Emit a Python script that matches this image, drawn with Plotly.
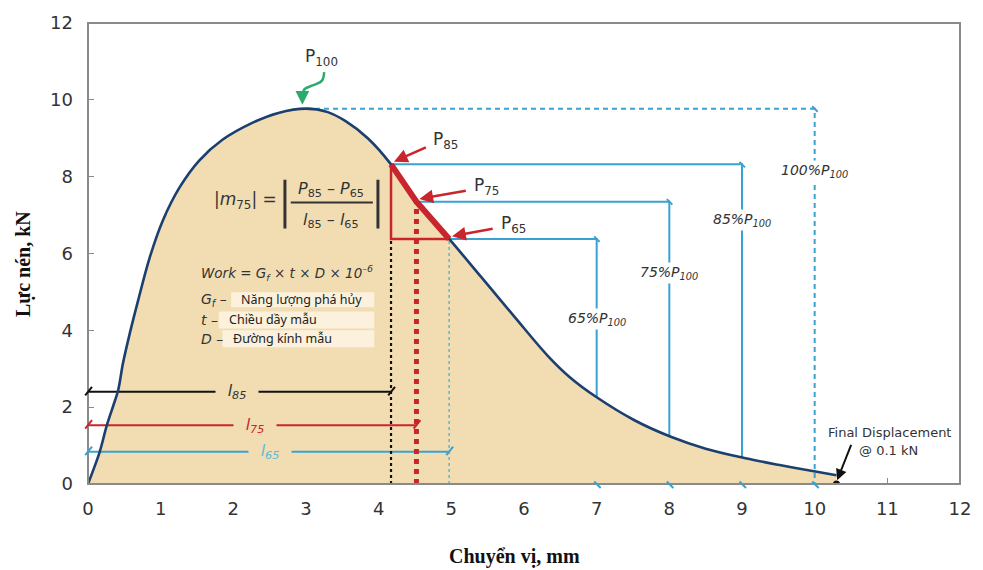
import numpy as np
import plotly.graph_objects as go

# ---------------- data ----------------
curve_x = [0, 0.08, 0.16, 0.26, 0.35, 0.415, 0.48, 0.575, 0.69, 0.85, 1.03, 1.26, 1.53,
           1.85, 2.26, 2.62, 3.0, 3.3, 3.54, 3.85, 4.17, 4.52, 4.97, 5.41, 5.87, 6.33,
           6.63, 6.99, 7.52, 8.02, 8.5, 9.05, 9.5, 10.03, 10.3]
curve_y = [0, 0.4, 0.83, 1.53, 2.05, 2.44, 3.13, 3.92, 4.78, 5.9, 6.86, 7.72, 8.42,
           8.96, 9.4, 9.66, 9.77, 9.68, 9.45, 9.0, 8.32, 7.35, 6.38, 5.39, 4.35, 3.33,
           2.78, 2.27, 1.66, 1.23, 0.92, 0.67, 0.5, 0.32, 0.23]

peak_x, p100 = 3.0, 9.77
levels = [8.32, 7.35, 6.38]            # P85, P75, P65
l_vals = [4.17, 4.52, 4.97]            # l85, l75, l65
right_x = [9, 8, 7]                    # verticals for 85/75/65 %P100
p100_right = 10
final_disp = 10.3
dim_y = [2.4, 1.53, 0.84]              # heights of l85, l75, l65 dimension lines
x_ticks = list(range(0, 13))
y_ticks = list(range(0, 13, 2))

FILL = "#F2DDB3"
BOX = "#FBF1DC"
CURVE = "#1B3F6E"
BLUE = "#3AA2D2"
LBLUE = "#5DBBDD"
RED = "#C8262C"
GREEN = "#2BAA6E"
TXT = "#333333"
FF = "DejaVu Sans"

fig = go.Figure()

# area under the curve
fig.add_trace(go.Scatter(x=curve_x, y=curve_y, mode="lines", fill="tozeroy",
                         fillcolor=FILL, line=dict(color=FILL, width=0, shape="spline", smoothing=1.0),
                         hoverinfo="skip"))

# dimension lines l85/l75/l65
dim_colors = ["#111111", RED, BLUE]
dim_txt_colors = ["#333333", RED, "#5DBBDD"]
dim_names = ["l<sub>85</sub>", "l<sub>75</sub>", "l<sub>65</sub>"]
dim_lab_x = [2.05, 2.3, 2.5]
for lv, dy, c, tc, nm, lx in zip(l_vals, dim_y, dim_colors, dim_txt_colors, dim_names, dim_lab_x):
    fig.add_trace(go.Scatter(x=[0, lv], y=[dy, dy], mode="lines",
                             line=dict(color=c, width=2), hoverinfo="skip"))
    for xe in (0, lv):
        fig.add_annotation(x=xe, y=dy, text="", showarrow=True, arrowhead=0,
                           arrowwidth=2, arrowcolor=c, ax=-8, ay=10, xshift=4, yshift=5)
    fig.add_annotation(x=lx, y=dy, text="<i>" + nm + "</i>", showarrow=False,
                       bgcolor=FILL, font=dict(family=FF, size=16, color=tc),
                       borderpad=1, width=40)

# vertical guide lines at l85, l75, l65
fig.add_trace(go.Scatter(x=[l_vals[0], l_vals[0]], y=[0, levels[2]], mode="lines",
                         line=dict(color="#111111", width=2.2, dash="dot"), hoverinfo="skip"))
fig.add_trace(go.Scatter(x=[l_vals[1], l_vals[1]], y=[0, levels[1]], mode="lines",
                         line=dict(color=RED, width=5, dash="dot"), hoverinfo="skip"))
fig.add_trace(go.Scatter(x=[l_vals[2], l_vals[2]], y=[0, levels[2]], mode="lines",
                         line=dict(color=LBLUE, width=1.6, dash="dot"), hoverinfo="skip"))

# blue level lines for 85/75/65 %
for lv, lev, xr in zip(l_vals, levels, right_x):
    yb = float(np.interp(xr, curve_x, curve_y))
    fig.add_trace(go.Scatter(x=[lv, xr, xr], y=[lev, lev, yb], mode="lines",
                             line=dict(color=BLUE, width=2), hoverinfo="skip"))
    fig.add_annotation(x=xr, y=lev, text="", showarrow=True, arrowhead=0, arrowwidth=2,
                       arrowcolor=BLUE, ax=-7, ay=-7, xshift=3, yshift=-3)
    fig.add_annotation(x=xr, y=0, text="", showarrow=True, arrowhead=0, arrowwidth=2,
                       arrowcolor=BLUE, ax=-8, ay=-8, xshift=4, yshift=-4)

# 100% line (dashed)
fig.add_trace(go.Scatter(x=[peak_x, p100_right, p100_right], y=[p100, p100, 0], mode="lines",
                         line=dict(color=BLUE, width=2, dash="5px,4px"), hoverinfo="skip"))
fig.add_annotation(x=p100_right, y=p100, text="", showarrow=True, arrowhead=0, arrowwidth=2,
                   arrowcolor=BLUE, ax=-7, ay=-7, xshift=3, yshift=-3)
fig.add_annotation(x=p100_right, y=0, text="", showarrow=True, arrowhead=0, arrowwidth=2,
                   arrowcolor=BLUE, ax=-8, ay=-8, xshift=4, yshift=-4)

# red triangle
fig.add_trace(go.Scatter(x=[l_vals[0], l_vals[0], l_vals[2]], y=[levels[0], levels[2], levels[2]],
                         mode="lines", line=dict(color=RED, width=2.5), hoverinfo="skip"))

# the curve
fig.add_trace(go.Scatter(x=curve_x, y=curve_y, mode="lines",
                         line=dict(color=CURVE, width=2.6, shape="spline", smoothing=1.0),
                         hoverinfo="skip"))
# thick red slope segment
fig.add_trace(go.Scatter(x=l_vals, y=levels, mode="lines", line=dict(color=RED, width=6),
                         hoverinfo="skip"))
# final displacement dot
fig.add_trace(go.Scatter(x=[final_disp], y=[0], mode="markers",
                         marker=dict(color="#111111", size=7), hoverinfo="skip"))

# percentage labels
pct_labels = ["85%P<sub>100</sub>", "75%P<sub>100</sub>", "65%P<sub>100</sub>"]
pct_y = [6.86, 5.5, 4.3]
for xr, lab, py in zip(right_x, pct_labels, pct_y):
    fig.add_annotation(x=xr, y=py, text="<i>" + lab + "</i>", showarrow=False, bgcolor="white",
                       font=dict(family=FF, size=14, color=TXT), borderpad=1)
fig.add_annotation(x=p100_right, y=8.16, text="<i>100%P<sub>100</sub></i>", showarrow=False,
                   bgcolor="white", font=dict(family=FF, size=14, color=TXT), borderpad=1)

# P labels with red arrows
plabs = ["P<sub>85</sub>", "P<sub>75</sub>", "P<sub>65</sub>"]
plab_xy = [(4.92, 8.94), (5.49, 7.74), (5.85, 6.75)]
tails = [(4.67, 8.78), (5.22, 7.64), (5.59, 6.65)]
for lv, lev, lab, (tx, ty), (ax_, ay_) in zip(l_vals, levels, plabs, plab_xy, tails):
    fig.add_annotation(x=tx, y=ty, text=lab, showarrow=False,
                       font=dict(family=FF, size=17, color=TXT))
    fig.add_annotation(x=lv + 0.04, y=lev + 0.07, ax=ax_, ay=ay_, axref="x", ayref="y",
                       text="", showarrow=True, arrowhead=2, arrowsize=1.1, arrowwidth=2.5,
                       arrowcolor=RED)

# P100 label with green curved arrow
fig.add_annotation(x=3.21, y=11.1, text="P<sub>100</sub>", showarrow=False,
                   font=dict(family=FF, size=17, color=TXT))
fig.add_trace(go.Scatter(x=[3.25, 3.22, 3.1, 2.98, 2.95], y=[10.72, 10.5, 10.38, 10.28, 10.1],
                         mode="lines", line=dict(color=GREEN, width=2.5, shape="spline"),
                         hoverinfo="skip"))
fig.add_annotation(x=2.95, y=9.87, ax=2.95, ay=10.2, axref="x", ayref="y", text="",
                   showarrow=True, arrowhead=2, arrowsize=1.1, arrowwidth=2.5, arrowcolor=GREEN)

# Formula block
fig.add_annotation(x=2.17, y=7.38, text="|<i>m</i><sub>75</sub>| =", showarrow=False,
                   font=dict(family=FF, size=17, color=TXT))
fig.add_annotation(x=3.35, y=7.66, text="<i>P</i><sub>85</sub> – <i>P</i><sub>65</sub>",
                   showarrow=False, font=dict(family=FF, size=16, color=TXT))
fig.add_annotation(x=3.35, y=6.86, text="<i>l</i><sub>85</sub> – <i>l</i><sub>65</sub>",
                   showarrow=False, font=dict(family=FF, size=16, color=TXT))
fig.add_shape(type="line", x0=2.79, x1=3.92, y0=7.33, y1=7.33, line=dict(color=TXT, width=2))
for bx in (2.71, 3.99):
    fig.add_shape(type="line", x0=bx, x1=bx, y0=6.65, y1=7.92, line=dict(color=TXT, width=3))

fig.add_annotation(x=1.53, y=5.5, xanchor="left",
                   text="<i>Work = G<sub>f</sub> × t × D × 10<sup>–6</sup></i>", showarrow=False,
                   font=dict(family=FF, size=13.5, color=TXT))
rows = [("<i>G<sub>f</sub> –</i>", 4.79, 1.97, 4.60, 4.99, 2.08, "Năng lượng phá hủy"),
        ("<i>t –</i>", 4.27, 1.80, 4.05, 4.49, 1.91, "Chiều dầy mẫu"),
        ("<i>D –</i>", 3.78, 1.85, 3.56, 4.00, 1.97, "Đường kính mẫu")]
for sym, yy, bx0, by0, by1, tx, txt in rows:
    fig.add_shape(type="rect", x0=bx0, x1=3.94, y0=by0, y1=by1, fillcolor=BOX,
                  line=dict(width=0), layer="above")
    fig.add_annotation(x=1.53, y=yy, xanchor="left", text=sym, showarrow=False,
                       font=dict(family=FF, size=14, color=TXT))
    fig.add_annotation(x=tx, y=yy, xanchor="left", text=txt, showarrow=False,
                       font=dict(family="Noto Sans", size=12.5, color="#222"))

# Final displacement
fig.add_annotation(x=11.03, y=1.35, text="Final Displacement", showarrow=False,
                   font=dict(family=FF, size=13, color=TXT))
fig.add_annotation(x=11.02, y=0.88, text="@ 0.1 kN", showarrow=False,
                   font=dict(family=FF, size=13, color=TXT))
fig.add_annotation(x=final_disp + 0.01, y=0.1, ax=10.51, ay=1.06, axref="x", ayref="y", text="",
                   showarrow=True, arrowhead=2, arrowsize=1.1, arrowwidth=2, arrowcolor="#111")

# axis titles
fig.add_annotation(x=0.489, y=-0.158, xref="paper", yref="paper", text="<b>Chuyển vị, mm</b>",
                   xanchor="center", yanchor="middle",
                   showarrow=False, font=dict(family="Liberation Serif", size=20, color="#111"))
fig.add_annotation(x=-0.074, y=0.478, xref="paper", yref="paper", text="<b>Lực nén, kN</b>",
                   xanchor="center", yanchor="middle", textangle=-90, showarrow=False,
                   font=dict(family="Liberation Serif", size=20, color="#111"))

# frame
fig.add_shape(type="rect", xref="paper", yref="paper", x0=0, x1=1, y0=0, y1=1,
              line=dict(color="#8A8A8A", width=2), layer="above")

fig.update_layout(
    width=983, height=570, showlegend=False,
    margin=dict(l=88, r=17, t=22, b=86),
    plot_bgcolor="white", paper_bgcolor="white",
    xaxis=dict(range=[0, 12], tickvals=x_ticks, showgrid=False, zeroline=False, showline=False,
               ticks="inside", ticklen=6, tickcolor="#8A8A8A", layer="below traces",
               tickfont=dict(family=FF, size=18, color=TXT), ticklabelstandoff=12),
    yaxis=dict(range=[0, 12], tickvals=y_ticks, showgrid=False, zeroline=False, showline=False,
               ticks="inside", ticklen=6, tickcolor="#8A8A8A", layer="below traces",
               tickfont=dict(family=FF, size=18, color=TXT), ticklabelstandoff=14),
)

fig.write_html("out.html")
